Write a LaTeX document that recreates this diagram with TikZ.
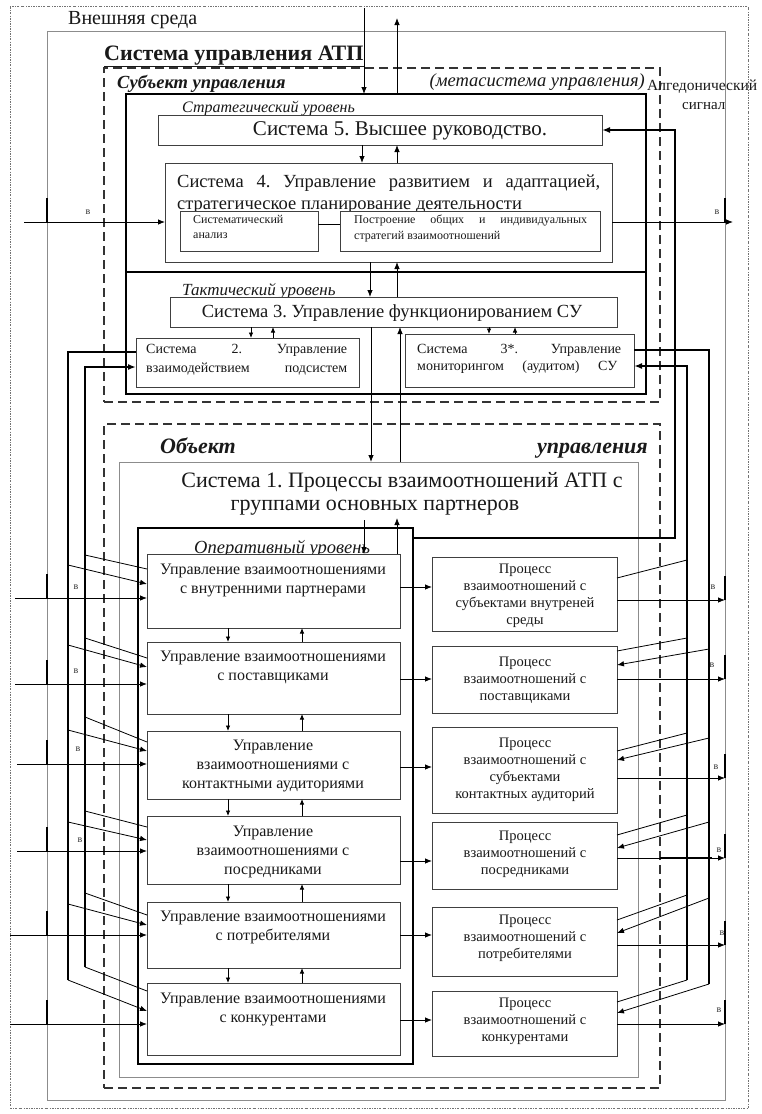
\documentclass[tikz,border=0pt]{standalone}
\usepackage{fontspec}
\setmainfont{Liberation Serif}
\usetikzlibrary{arrows.meta,calc}
\newcommand\setfs[2]{\fontsize{#1}{#2}\selectfont}
% \bx{style}{name}{x1}{y1}{x2}{y2}: a box node spanning two corners
\newcommand\bx[6]{\node[#1,minimum width={(#5-#3)*1pt},minimum height={(#6-#4)*1pt}] (#2) at (#3,#4) {};}
\begin{document}
\frenchspacing
\begin{tikzpicture}[x=1pt,y=-1pt,
  box/.style={draw=black!75,line width=0.9pt,fill=white,inner sep=0pt,outer sep=0pt,anchor=north west},
  lvl/.style={draw=black,line width=2.2pt,inner sep=0pt,outer sep=0pt,anchor=north west},
  dbox/.style={draw=black!80,line width=1.3pt,dash pattern=on 9pt off 5pt,inner sep=0pt,outer sep=0pt,anchor=north west},
  gbox/.style={draw=black!45,line width=0.8pt,inner sep=0pt,outer sep=0pt,anchor=north west},
  frm/.style={draw=black!55,line width=0.9pt,dash pattern=on 2pt off 1.3pt on 0.6pt off 1.3pt,inner sep=0pt,outer sep=0pt,anchor=north west},
  txt/.style={inner sep=0pt,align=center,text=black!90},
  vlab/.style={inner sep=0pt,font=\setfs{10}{12},text=black!80},
  arr/.style={-{Latex[length=7pt,width=5.5pt]},line width=0.8pt},
  sarr/.style={-{Latex[length=5.5pt,width=4.5pt]},line width=0.8pt},
  ln/.style={line width=0.8pt},
  bus/.style={line width=2.2pt},
  busarr/.style={line width=2.2pt,-{Latex[length=8pt,width=6pt]}},
  bnd/.style={line width=1.3pt},
]
\useasboundingbox (0,0) rectangle (762,1114);
\fill[white] (0,0) rectangle (762,1114);

% ---------- frames and containers ----------
\bx{frm}{frame}{10}{6}{748}{1108}
\bx{gbox}{env}{47}{31}{725}{1100}
\bx{dbox}{subj}{104}{68}{660}{402}
\bx{dbox}{obj}{104}{424}{660}{1088}
\bx{lvl}{strat}{126}{94}{646}{272}
\bx{lvl}{tact}{126}{272}{646}{394}
\bx{gbox}{sys1}{119}{462}{638}{1077}
\bx{lvl}{oper}{138}{528}{413}{1064}

% ---------- titles ----------
\node[txt,anchor=west,font=\setfs{20}{22}] (envlbl) at (68,20) {Внешняя среда};
\node[txt,anchor=base west,font={\bfseries\setfs{22}{24}}] (atp) at (104,60) {\underline{Система управления АТП}};
\node[txt,anchor=base west,font={\bfseries\itshape\setfs{18.5}{20}}] (subjl) at (117,88) {Субъект управления};
\node[txt,anchor=base east,font={\itshape\setfs{18.5}{20}}] (meta) at (645,86) {(метасистема управления)};
\node[txt,anchor=west,font=\setfs{15.5}{16}] (alg1) at (647,87) {Алгедонический};
\node[txt,anchor=west,font=\setfs{15}{16}] (alg2) at (682,106) {сигнал};

% ---------- strategic level ----------
\node[txt,anchor=west,font={\itshape\setfs{16}{18}}] (stratlbl) at (182,109) {Стратегический уровень};
\bx{box}{b5}{158}{115}{602}{145}
\node[txt,font=\setfs{21}{24}] (b5t) at (400,131) {Система 5. Высшее руководство.};
\bx{box}{b4}{165}{163}{612}{262}
\node[txt,anchor=west,font=\setfs{18.5}{22}] (b4t1) at (177,183) {\makebox[423pt][s]{Система 4. Управление развитием и адаптацией,}};
\node[txt,anchor=west,font=\setfs{18.5}{22}] (b4t2) at (177,207) {стратегическое планирование деятельности};
\bx{box}{sa}{180}{211}{318}{251}
\node[txt,anchor=north west,align=left,font=\setfs{12}{15.5}] (sat) at (193,215) {Систематический\\анализ};
\bx{box}{sb}{340}{211}{600}{251}
\node[txt,anchor=north west,align=left,font=\setfs{12}{15.5}] (sbt) at (354,215) {\makebox[233pt][s]{Построение общих и индивидуальных}\\стратегий взаимоотношений};

% ---------- tactical level ----------
\node[txt,anchor=west,font={\itshape\setfs{17}{18}}] (tactlbl) at (182,291) {Тактический уровень};
\bx{box}{b3}{170}{297}{617}{327}
\node[txt,font=\setfs{18.5}{22}] (b3t) at (392,313) {Система 3. Управление функционированием СУ};
\bx{box}{b2}{136}{338}{359}{387}
\node[txt,anchor=north west,align=left,font=\setfs{14}{19}] (b2t) at (146,344) {\makebox[201pt][s]{Система 2. Управление}\\\makebox[201pt][s]{взаимодействием подсистем}};
\bx{box}{b3s}{405}{334}{634}{387}
\node[txt,anchor=north west,align=left,font=\setfs{14}{17}] (b3st) at (417,344) {\makebox[204pt][s]{Система 3*. Управление}\\\makebox[200pt][s]{мониторингом (аудитом) СУ}};

% ---------- object of management ----------
\node[txt,anchor=base west,font={\bfseries\itshape\setfs{22}{24}}] (objl) at (160,453) {Объект};
\node[txt,anchor=base east,font={\bfseries\itshape\setfs{22}{24}}] (objr) at (648,453) {управления};
\node[txt,font=\setfs{22}{26}] (s1t1) at (402,482) {Система 1. Процессы взаимоотношений АТП с};
\node[txt,font=\setfs{22}{26}] (s1t2) at (375,508) {группами основных партнеров};
\node[txt,anchor=west,font={\itshape\setfs{18.5}{19}}] (operlbl) at (194,549) {Оперативный уровень};

% operational management boxes
\bx{box}{L1}{147}{554}{400}{628}
\bx{box}{L2}{147}{642}{400}{714}
\bx{box}{L3}{147}{731}{400}{799}
\bx{box}{L4}{147}{816}{400}{884}
\bx{box}{L5}{147}{902}{400}{968}
\bx{box}{L6}{147}{983}{400}{1055}
\begin{scope}[every node/.style={txt,font=\setfs{16}{19}}]
\node (L1t) at (273,580) {Управление взаимоотношениями\\с внутренними партнерами};
\node (L2t) at (273,667) {Управление взаимоотношениями\\с поставщиками};
\node (L3t) at (273,766) {Управление\\взаимоотношениями с\\контактными аудиториями};
\node (L4t) at (273,852) {Управление\\взаимоотношениями с\\посредниками};
\node (L5t) at (273,927) {Управление взаимоотношениями\\с потребителями};
\node (L6t) at (273,1009) {Управление взаимоотношениями\\с конкурентами};
\end{scope}

% relationship process boxes
\bx{box}{R1}{432}{557}{617}{631}
\bx{box}{R2}{432}{646}{617}{713}
\bx{box}{R3}{432}{727}{617}{813}
\bx{box}{R4}{432}{822}{617}{889}
\bx{box}{R5}{432}{907}{617}{976}
\bx{box}{R6}{432}{991}{617}{1056}
\begin{scope}[every node/.style={txt,font=\setfs{14.5}{17}}]
\node (R1t) at (525,596) {Процесс\\взаимоотношений с\\субъектами внутреней\\среды};
\node (R2t) at (525,680) {Процесс\\взаимоотношений с\\поставщиками};
\node (R3t) at (525,770) {Процесс\\взаимоотношений с\\субъектами\\контактных аудиторий};
\node (R4t) at (525,854) {Процесс\\взаимоотношений с\\посредниками};
\node (R5t) at (525,938) {Процесс\\взаимоотношений с\\потребителями};
\node (R6t) at (525,1021) {Процесс\\взаимоотношений с\\конкурентами};
\end{scope}

% ---------- vertical links between levels ----------
\coordinate (envin) at (364,8);
\coordinate (envout) at (397,18);
\draw[arr] (envin) -- (envin |- strat.north);
\draw[arr] (envout |- strat.north) -- (envout);
\draw[arr] (362,0 |- b5.south) -- (362,0 |- b4.north);
\draw[arr] (397,0 |- b4.north) -- (397,0 |- b5.south);
\draw[arr] (370,0 |- b4.south) -- (370,0 |- b3.north);
\draw[arr] (397,0 |- b3.north) -- (397,0 |- b4.south);
\draw[sarr] (251,0 |- b3.south) -- (251,0 |- b2.north);
\draw[sarr] (273,0 |- b2.north) -- (273,0 |- b3.south);
\draw[sarr] (489,0 |- b3.south) -- (489,0 |- b3s.north);
\draw[sarr] (515,0 |- b3s.north) -- (515,0 |- b3.south);
\draw[arr] (371,0 |- b3.south) -- (371,0 |- sys1.north);
\draw[arr] (400,0 |- sys1.north) -- (400,0 |- b3.south);
\draw[ln] (sa.east |- 0,224) -- (sb.west |- 0,224);
\coordinate (opdn) at (364,520);
\coordinate (opup) at (397,518);
\draw[arr] (opdn) -- (opdn |- L1.north);
\draw[arr] (opup |- L1.north) -- (opup);
\foreach \a/\b in {L1/L2,L2/L3,L3/L4,L4/L5,L5/L6}{
  \draw[sarr] (228,0 |- \a.south) -- (228,0 |- \b.north);
  \draw[sarr] (302,0 |- \b.north) -- (302,0 |- \a.south);
}

% ---------- management to processes ----------
\draw[arr] (L1.east |- 0,587) -- (R1.west |- 0,587);
\draw[arr] (L2.east |- 0,679) -- (R2.west |- 0,679);
\draw[arr] (L3.east |- 0,767) -- (R3.west |- 0,767);
\draw[arr] (L4.east |- 0,861) -- (R4.west |- 0,861);
\draw[arr] (L5.east |- 0,935) -- (R5.west |- 0,935);
\draw[arr] (L6.east |- 0,1020) -- (R6.west |- 0,1020);

% ---------- inputs from the environment ----------
\coordinate (in4) at (24,222);
\coordinate (in1) at (15,598);
\coordinate (in2) at (15,684);
\coordinate (in3) at (17,764);
\coordinate (in5) at (17,851);
\coordinate (in6) at (10,935);
\coordinate (in7) at (10,1024);
\draw[arr] (in4) -- (b4.west |- in4);
\draw[arr] (in1) -- (L1.west |- in1);
\draw[arr] (in2) -- (L2.west |- in2);
\draw[arr] (in3) -- (L3.west |- in3);
\draw[arr] (in5) -- (L4.west |- in5);
\draw[arr] (in6) -- (L5.west |- in6);
\draw[arr] (in7) -- (L6.west |- in7);
\foreach \y in {222,598,684,764,851,935,1024}{
  \draw[bnd] (env.west |- 0,\y) -- ++(0,-24);
}

% ---------- outputs to the environment ----------
\draw[arr] (b4.east |- 0,222) -- (733,222);
\draw[arr] (R1.east |- 0,600) -- (env.east |- 0,600);
\draw[arr] (R2.east |- 0,679) -- (env.east |- 0,679);
\draw[arr] (R3.east |- 0,778) -- (env.east |- 0,778);
\draw[arr] (R4.east |- 0,858) -- (env.east |- 0,858);
\draw[arr] (R5.east |- 0,945) -- (env.east |- 0,945);
\draw[arr] (R6.east |- 0,1024) -- (env.east |- 0,1024);
\draw[bus] (obj.east |- 0,858) -- (712,858);
\foreach \y in {222,600,679,778,858,945,1024}{
  \draw[bnd] (env.east |- 0,\y) -- ++(0,-24);
}

% ---------- "в" marks ----------
\node[vlab] (vl0) at (88,212) {в};
\node[vlab] (vl1) at (76,587) {в};
\node[vlab] (vl2) at (76,671) {в};
\node[vlab] (vl3) at (78,749) {в};
\node[vlab] (vl4) at (80,840) {в};
\node[vlab] (vr0) at (717,212) {в};
\node[vlab] (vr1) at (713,587) {в};
\node[vlab] (vr2) at (712,665) {в};
\node[vlab] (vr3) at (716,767) {в};
\node[vlab] (vr4) at (719,850) {в};
\node[vlab] (vr5) at (722,933) {в};
\node[vlab] (vr6) at (719,1010) {в};

% ---------- coordination (System 2) channels ----------
\draw[bus] (b2.west |- 0,352) -- (68,352) -- (68,980);
\draw[busarr] (85,967) -- (85,367) -- (b2.west |- 0,367);
\draw[ln]  (85,555) -- (L1.west |- 0,569);
\draw[arr] (68,565) -- (L1.west |- 0,584);
\draw[ln]  (85,638) -- (L2.west |- 0,658);
\draw[arr] (68,645) -- (L2.west |- 0,667);
\draw[ln]  (85,717) -- (L3.west |- 0,742);
\draw[arr] (68,730) -- (L3.west |- 0,751);
\draw[ln]  (85,811) -- (L4.west |- 0,827);
\draw[arr] (68,822) -- (L4.west |- 0,840);
\draw[ln]  (85,893) -- (L5.west |- 0,915);
\draw[arr] (68,904) -- (L5.west |- 0,925);
\draw[ln]  (85,967) -- (L6.west |- 0,991);
\draw[arr] (68,980) -- (L6.west |- 0,1011);

% ---------- monitoring (System 3*) channels ----------
\draw[bus] (b3s.east |- 0,350) -- (709,350) -- (709,984);
\draw[busarr] (687,980) -- (687,366) -- (b3s.east |- 0,366);
\draw[ln]  (687,560) -- (R1.east |- 0,578);
\draw[ln]  (687,638) -- (R2.east |- 0,651);
\draw[arr] (709,649) -- (R2.east |- 0,665);
\draw[ln]  (687,733) -- (R3.east |- 0,751);
\draw[arr] (709,738) -- (R3.east |- 0,760);
\draw[ln]  (687,815) -- (R4.east |- 0,835);
\draw[arr] (709,822) -- (R4.east |- 0,848);
\draw[ln]  (687,895) -- (R5.east |- 0,920);
\draw[arr] (709,898) -- (R5.east |- 0,933);
\draw[ln]  (687,980) -- (R6.east |- 0,1002);
\draw[arr] (709,984) -- (R6.east |- 0,1013);

% ---------- algedonic signal ----------
\draw[busarr] (oper.east |- 0,538) -- (675,538) -- (675,130) -- (b5.east |- 0,130);
\end{tikzpicture}
\end{document}
